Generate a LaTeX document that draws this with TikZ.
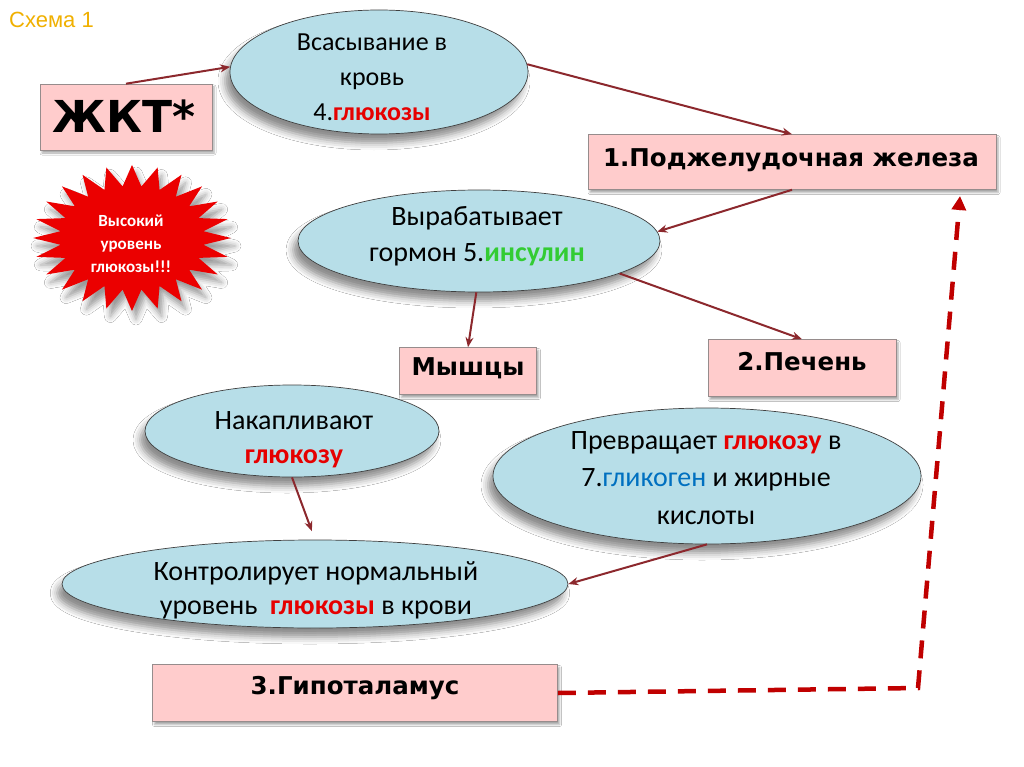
\documentclass[tikz,border=0pt]{standalone}
\usepackage{fontspec}
\setmainfont{Carlito}
\newfontfamily\hfont{DejaVu Sans}
\newfontfamily\afont{Liberation Sans}
\usetikzlibrary{shapes.geometric,arrows.meta,shadows.blur,calc}
\definecolor{ellfill}{RGB}{183,222,232}
\definecolor{boxfill}{RGB}{255,204,204}
\definecolor{boxline}{RGB}{150,140,140}
\definecolor{arr}{RGB}{140,40,45}
\definecolor{dashc}{RGB}{192,0,0}
\definecolor{gred}{RGB}{230,0,0}
\definecolor{ggreen}{RGB}{51,204,51}
\definecolor{gblue}{RGB}{0,112,192}
\definecolor{sch}{RGB}{240,176,0}
\definecolor{burst}{RGB}{235,0,0}
\newcommand\glu[1]{\textcolor{gred}{\bfseries #1}}
\begin{document}
\begin{tikzpicture}[x=1pt,y=-1pt,
 ell/.style={ellipse, draw=black!75, line width=0.7pt, fill=ellfill, inner sep=0pt,
   blur shadow={shadow xshift=-5pt, shadow yshift=-9pt, shadow blur radius=7pt, shadow opacity=45}},
 rbox/.style={rectangle, draw=boxline, line width=0.6pt, fill=boxfill, inner sep=0pt,
   blur shadow={shadow xshift=2pt, shadow yshift=-3pt, shadow blur radius=2pt, shadow opacity=35}},
 etext/.style={font=\fontsize{28}{36}\selectfont, align=center, inner sep=0pt},
 btext/.style={font=\hfont\bfseries\fontsize{24.5}{30}\selectfont, inner sep=0pt},
 link/.style={draw=arr, line width=2pt, -{Stealth[length=10pt,width=8pt]}},
 dlink/.style={draw=dashc, line width=4.5pt, dash pattern=on 18pt off 12pt, -{Triangle[length=14pt,width=14pt]}}
]
\useasboundingbox[fill=white] (0,0) rectangle (1024,767);

\node[font=\afont\fontsize{22}{26}\selectfont, text=sch, anchor=west, inner sep=0pt] (title) at (9,20) {Схема 1};

% starburst
\fill[burst, blur shadow={shadow xshift=4pt, shadow yshift=-8pt, shadow blur radius=6pt, shadow opacity=40}]
  plot[samples at={0,...,47}] ({132+ifthenelse(mod(\x,2)==0,99,72)*cos(90+\x*7.5)}, {238+ifthenelse(mod(\x,2)==0,73,52)*sin(90+\x*7.5)}) -- cycle;
\node[font=\bfseries\fontsize{17}{23}\selectfont, text=white, align=center, inner sep=0pt] (burst) at (131,244) {Высокий\\уровень\\глюкозы!!!};

% boxes
\node[rbox, minimum width=172pt, minimum height=66pt] (jkt) at (126,117) {};
\node[btext, font=\hfont\bfseries\fontsize{44}{50}\selectfont] (jktt) at (124,116) {ЖКТ*};
\node[rbox, minimum width=408pt, minimum height=55pt] (box1) at (792,162) {};
\node[btext] (box1t) at (791,160) {1.Поджелудочная железа};
\node[rbox, minimum width=137pt, minimum height=47pt] (mus) at (468,371) {};
\node[btext] (must) at (468,368) {Мышцы};
\node[rbox, minimum width=188pt, minimum height=57pt] (pech) at (802,368) {};
\node[btext] (pecht) at (802,362) {2.Печень};
\node[rbox, minimum width=405pt, minimum height=57pt] (gip) at (355,693) {};
\node[btext] (gipt) at (355,688) {3.Гипоталамус};

% ellipses
\node[ell, minimum width=298pt, minimum height=124pt] (e1) at (379,72) {};
\node[etext, font=\fontsize{26}{35}\selectfont] (e1t) at (372,77) {Всасывание в\\кровь\\4.\glu{глюкозы}};
\node[ell, minimum width=362pt, minimum height=102pt] (e2) at (479,241) {};
\node[etext] (e2t) at (477,236) {Вырабатывает\\гормон 5.\textcolor{ggreen}{\bfseries инсулин}};
\node[ell, minimum width=294pt, minimum height=92pt] (nak) at (292,431) {};
\node[etext, font=\fontsize{28}{34}\selectfont] (nakt) at (294,440) {Накапливают\\\glu{глюкозу}};
\node[ell, minimum width=428pt, minimum height=136pt] (prev) at (707,476) {};
\node[etext, font=\fontsize{28}{37.5}\selectfont] (prevt) at (706,478) {Превращает \glu{глюкозу} в\\7.\textcolor{gblue}{гликоген} и жирные\\кислоты};
\node[ell, minimum width=506pt, minimum height=88pt] (kont) at (315,584) {};
\node[etext, font=\fontsize{28}{34}\selectfont] (kontt) at (316,590) {Контролирует нормальный\\уровень~ \glu{глюкозы} в крови};

% connectors
\draw[link] (jkt.north) -- (e1.178);
\draw[link] (e1.3) -- (box1.north);
\draw[link] (box1.south) -- (e2.3);
\draw[link] (e2.-93) -- (mus.north);
\draw[link] (e2.-13) -- (pech.north);
\draw[link, shorten >=9pt] (nak.south) -- (kont.north);
\draw[link] (prev.south) -- (kont.east);

\coordinate (d1) at (918,688);
\coordinate (d2) at (960,196);
\draw[dlink] (gip.east) -- (d1) -- (d2);
\end{tikzpicture}
\end{document}
